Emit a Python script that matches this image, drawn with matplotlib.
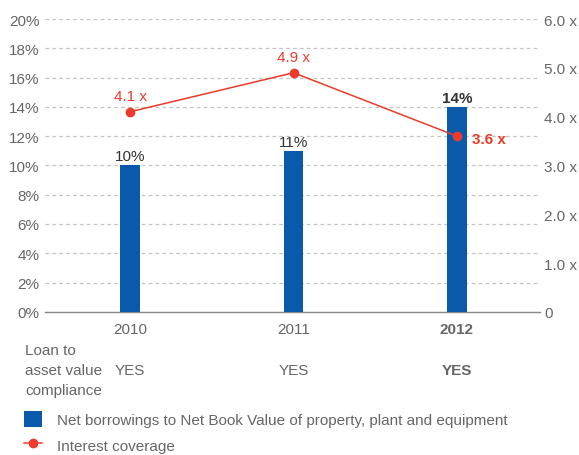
"""Net borrowings ratio vs interest coverage -- bar + line combo chart."""

import matplotlib

matplotlib.use("Agg")
import matplotlib.pyplot as plt
from matplotlib.lines import Line2D
from matplotlib.patches import Patch

# data
years = ["2010", "2011", "2012"]
net_borrowings = [10, 11, 14]          # % of NBV of PP&E
interest_cover = [4.1, 4.9, 3.6]       # times
compliance = ["YES", "YES", "YES"]
pct_ticks = list(range(0, 21, 2))
cover_ticks = [0, 1, 2, 3, 4, 5, 6]

BLUE = "#0a5aab"
RED = "#ec3a2b"
GRAY = "#666666"
DARK = "#333333"
FS = 11

plt.rcParams["font.family"] = ["Liberation Sans", "DejaVu Sans"]

fig = plt.figure(figsize=(5.79, 4.56), dpi=100)
ax = fig.add_axes([0.078, 0.314, 0.855, 0.642])
x = list(range(len(years)))

ax.bar(x, net_borrowings, width=0.12, color=BLUE, zorder=3)
ax.set_xlim(-0.52, 2.51)
ax.set_ylim(0, 20)
ax.set_yticks(pct_ticks)
ax.set_yticklabels([f"{t}%" for t in pct_ticks])
ax.set_xticks(x)
ax.set_xticklabels(years)
ax.tick_params(axis="both", length=0, labelsize=FS, colors=GRAY, pad=4)
ax.tick_params(axis="x", pad=7)
ax.get_xticklabels()[-1].set_fontweight("bold")
ax.grid(axis="y", linestyle=(0, (3, 2.5)), color="#c4c4c4", linewidth=0.9, zorder=0)
for s in ["top", "right", "left"]:
    ax.spines[s].set_visible(False)
ax.spines["bottom"].set_color("#888888")
ax.spines["bottom"].set_linewidth(1.0)

for i, v in enumerate(net_borrowings):
    ax.annotate(f"{v}%", (i, v), xytext=(0, 1.5), textcoords="offset points",
                ha="center", va="bottom", fontsize=FS, color=DARK,
                fontweight="bold" if i == len(years) - 1 else "normal")

ax2 = ax.twinx()
ax2.set_ylim(0, 6)
ax2.set_yticks(cover_ticks)
ax2.set_yticklabels(["0"] + [f"{t:.1f} x" for t in cover_ticks[1:]])
ax2.tick_params(axis="y", length=0, labelsize=FS, colors=GRAY, pad=3)
for s in ax2.spines.values():
    s.set_visible(False)

ax2.plot(x, interest_cover, color=RED, marker="o", markersize=6,
         linewidth=1.1, zorder=5)
for i, v in enumerate(interest_cover):
    if i == len(years) - 1:
        ax2.annotate(f"{v} x", (i, v), xytext=(11, -2), textcoords="offset points",
                     ha="left", va="center", fontsize=FS, color=RED,
                     fontweight="bold")
    else:
        ax2.annotate(f"{v} x", (i, v), xytext=(0, 6), textcoords="offset points",
                     ha="center", va="bottom", fontsize=FS, color=RED)

# compliance row
fig.text(25 / 579, 1 - 371 / 456, "Loan to\nasset value\ncompliance", ha="left",
         va="center", fontsize=FS, color=GRAY, linespacing=1.55)
for i, c in enumerate(compliance):
    xf, _ = fig.transFigure.inverted().transform(ax.transData.transform((i, 0)))
    fig.text(xf, 1 - 371 / 456, c, ha="center", va="center", fontsize=FS,
             color=GRAY, fontweight="bold" if i == len(years) - 1 else "normal")

handles = [
    Patch(facecolor=BLUE, edgecolor="none"),
    Line2D([0], [0], color=RED, marker="o", markersize=6, linewidth=1.1),
]
labels = [
    "Net borrowings to Net Book Value of property, plant and equipment",
    "Interest coverage",
]
leg = fig.legend(handles, labels, loc="upper left",
                 bbox_to_anchor=(24 / 579, 1 - 412 / 456),
                 frameon=False, fontsize=FS, handlelength=1.2, handleheight=1.2,
                 handletextpad=0.95, labelspacing=0.65, borderaxespad=0,
                 borderpad=0)
for t in leg.get_texts():
    t.set_color(GRAY)

fig.savefig("out.png", dpi=100)
plt.close(fig)
